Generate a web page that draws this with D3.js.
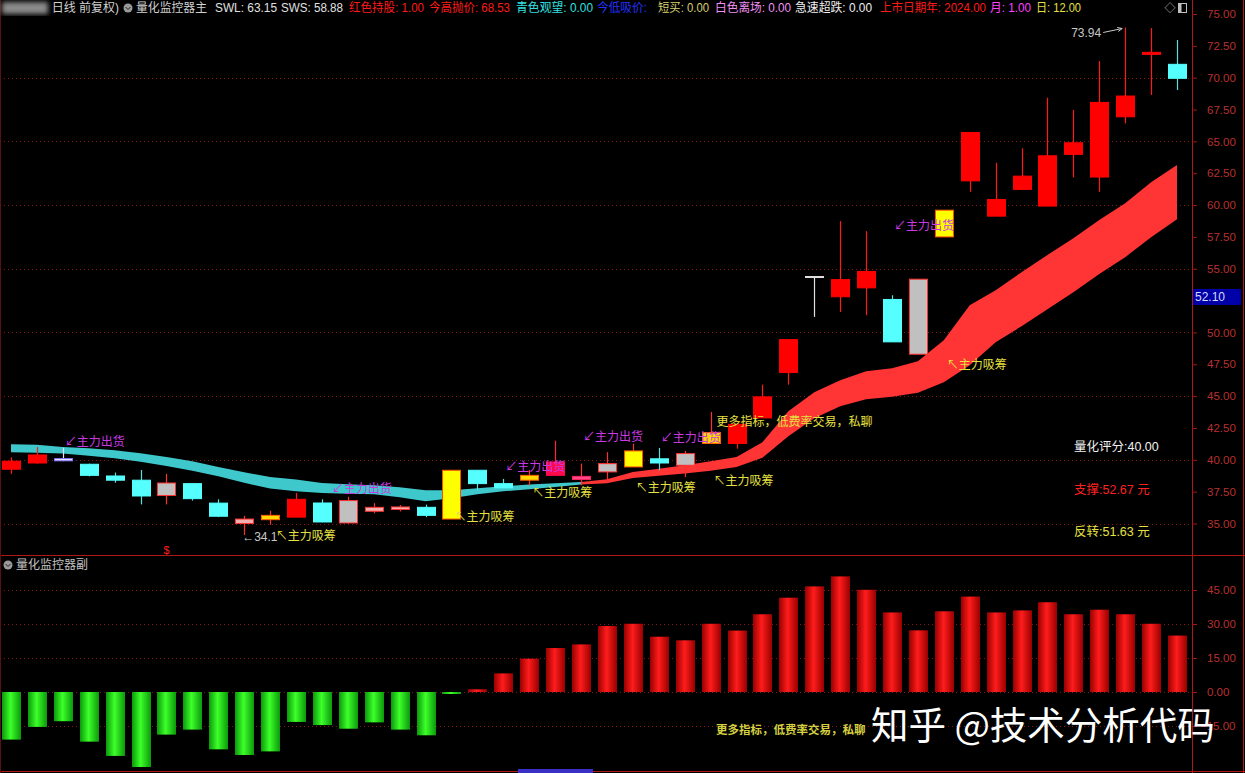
<!DOCTYPE html>
<html>
<head>
<meta charset="utf-8">
<script src="https://cdn.jsdelivr.net/npm/d3@7"></script>
<style>
  html, body { margin: 0; padding: 0; background: #000; overflow: hidden; }
  svg { display: block; }
  text { font-family: "Liberation Sans", "Noto Sans CJK SC", sans-serif; }
</style>
</head>
<body>
<div id="chart"></div>
<script>
const WIDTH = 1245;
const HEIGHT = 773;
const AXIS_X = 1192;
const MAIN_BOTTOM = 555;
const SUB_BOTTOM = 771;
const BODY_W = 18;
const BAR_W = 19;

// candle data, one entry per trading day
const opens  = [39.26, 39.75, 40.10, 39.65, 38.73, 38.40, 38.18, 38.13, 36.60, 35.35,
                35.30, 35.50, 36.61, 36.80, 35.96, 36.10, 36.27, 35.35, 39.18, 38.13,
                38.40, 38.78, 38.45, 39.05, 39.44, 40.08, 39.57, 41.28, 41.28, 43.29,
                46.85, 54.39, 52.80, 53.50, 52.59, 48.29, 57.50, 61.90, 59.13, 61.23,
                59.92, 63.98, 62.20, 66.93, 71.83, 71.05];
const highs  = [40.20, 41.00, 40.95, 39.70, 39.00, 39.20, 38.90, 38.13, 36.90, 35.60,
                36.00, 37.40, 36.90, 37.10, 36.60, 36.45, 36.48, 39.18, 39.18, 38.50,
                39.20, 41.50, 39.70, 40.60, 41.27, 40.93, 40.70, 43.76, 42.79, 45.90,
                49.44, 54.39, 58.74, 57.95, 52.92, 54.18, 59.60, 65.70, 63.32, 64.45,
                68.43, 67.46, 71.31, 73.94, 73.90, 72.96];
const lows   = [38.90, 39.70, 39.90, 38.70, 38.20, 36.50, 36.50, 36.80, 35.50, 34.10,
                34.90, 35.50, 35.10, 35.00, 35.80, 35.95, 35.50, 35.35, 37.60, 37.80,
                38.00, 38.78, 38.00, 38.20, 39.44, 39.18, 38.65, 41.28, 40.88, 43.29,
                45.90, 51.22, 51.60, 51.35, 49.26, 48.29, 57.50, 61.04, 59.13, 61.23,
                59.92, 62.17, 61.04, 66.41, 68.64, 69.03];
const closes = [39.89, 40.38, 39.92, 38.78, 38.40, 37.16, 37.20, 36.95, 35.57, 35.00,
                35.64, 36.90, 35.12, 35.04, 36.27, 36.30, 35.64, 39.18, 38.13, 37.80,
                38.78, 39.83, 38.70, 39.70, 40.70, 39.75, 40.49, 42.14, 42.79, 44.94,
                49.44, 54.39, 54.15, 54.79, 49.26, 54.18, 59.60, 65.70, 60.44, 62.27,
                63.87, 64.89, 68.06, 68.56, 71.99, 69.95];
// signal class of each candle
const signals = ["hold", "hold", "weak", "watch", "watch", "watch", "exit", "watch", "watch", "soft",
                 "buy2", "hold", "watch", "exit", "soft", "soft", "watch", "buy", "watch", "watch",
                 "buy2", "jump", "rose", "exit", "buy", "watch", "exit", "buy2", "hold", "hold",
                 "hold", "flat", "hold", "hold", "watch", "exit", "buy", "hold", "hold", "hold",
                 "hold", "hold", "hold", "hold", "hold", "watch"];

// SWL / SWS ribbon
const swl = [41.22, 41.18, 41.01, 40.91, 40.75, 40.51, 40.22, 39.89, 39.44, 39.02,
             38.65, 38.45, 38.18, 38.08, 38.00, 37.84, 37.61, 37.61, 37.76, 37.92,
             38.06, 38.16, 38.26, 38.47, 39.05, 39.30, 39.57, 39.89, 40.22, 41.38,
             43.81, 45.31, 46.25, 46.96, 47.19, 47.74, 49.39, 52.14, 53.32, 54.73,
             56.07, 57.40, 58.82, 60.15, 61.80, 63.15];
const sws = [40.59, 40.55, 40.49, 40.32, 40.12, 39.85, 39.52, 39.14, 38.71, 38.20,
             37.74, 37.53, 37.40, 37.33, 37.29, 37.06, 36.74, 36.98, 37.29, 37.53,
             37.69, 37.87, 38.06, 38.16, 38.57, 38.75, 38.92, 39.14, 39.44, 40.16,
             41.85, 43.26, 44.21, 44.76, 44.95, 45.27, 46.09, 47.43, 49.23, 50.49,
             51.83, 53.16, 54.58, 55.91, 57.48, 58.88];
const RIBBON_TURN = 22;

// lower panel histogram
const momentum = [-21.0, -15.4, -12.9, -21.9, -28.2, -33.1, -18.8, -16.6, -25.3, -27.8,
                  -26.2, -13.2, -14.6, -16.2, -13.4, -16.6, -19.1, -0.8, 1.2, 8.2,
                  14.7, 19.4, 21.0, 29.1, 30.1, 24.4, 22.8, 30.1, 27.1, 34.3,
                  41.6, 46.6, 51.0, 45.1, 35.1, 27.2, 35.6, 42.1, 35.1, 36.0,
                  39.6, 34.3, 36.3, 34.3, 30.1, 24.9];

// 52.50 sits under the last-price tag, so it is not labelled
const priceTicks = [35, 37.5, 40, 42.5, 45, 47.5, 50, 55, 57.5, 60, 62.5, 65, 67.5, 70, 72.5, 75];
const priceGrid = [35, 40, 45, 50, 55, 60, 65, 70];
const subTicks = [-15, 0, 15, 30, 45];

// text signals: candle index, price level
const sellMarks = [[2, 41.38], [12.3, 37.69], [19, 39.41], [22, 41.77], [25, 41.69], [34, 58.35]];
const buyMarks  = [[10.1, 33.99], [17, 35.49], [20, 37.37], [24, 37.76], [27, 38.31], [36, 47.43]];
const SELL_TEXT = "↙主力出货";
const BUY_TEXT = "↖主力吸筹";
const promoText = "更多指标，低费率交易，私聊";
const lowLabel = "34.1";
const highLabel = "73.94";
const lastPrice = "52.10";

const headerLabels = ["量化监控器主", "SWL:", "SWS:", "红色持股:", "今高抛价:", "青色观望:", "今低吸价:",
                      "短买:", "白色离场:", "急速超跌:", "上市日期年:", "月:", "日:"];
const headerValues = ["", "63.15", "58.88", "1.00", "68.53", "0.00", "",
                      "0.00", "0.00", "0.00", "2024.00", "1.00", "12.00"];
const infoLabels = ["量化评分:40.00", "支撑:52.67 元", "反转:51.63 元"];

const candleStyle = {
    hold:  {fill: "#ff0000", stroke: "#ff0000", wick: "#ff1a1a"},
    watch: {fill: "#55ffff", stroke: "#55ffff", wick: "#55e0e0"},
    exit:  {fill: "#c0c0c0", stroke: "#ff3030", wick: "#ff3030"},
    buy:   {fill: "#ffff00", stroke: "#ff5000", wick: "#ff3030"},
    buy2:  {fill: "#ffd800", stroke: "#ff6000", wick: "#ff3030"},
    soft:  {fill: "#f0b0b0", stroke: "#ff3030", wick: "#ff3030"},
    rose:  {fill: "#ff4a8a", stroke: "#ff2060", wick: "#ff3030"},
    jump:  {fill: "#ff0a4a", stroke: "#ff0a4a", wick: "#ff2040"},
    weak:  {fill: "#e8e8ff", stroke: "#8070ff", wick: "#e0e0ff"},
    flat:  {fill: "#e0e0e0", stroke: "#e0e0e0", wick: "#e0e0e0"}
};

let svg = d3.select("#chart")
            .append("svg")
            .attr("width", WIDTH)
            .attr("height", HEIGHT)
            .style("background", "#000");

let x = d3.scaleLinear().domain([0, closes.length - 1]).range([11, 1177]);
let y = d3.scaleLinear().domain([35, 75]).range([523.5, 14]);
let ySub = d3.scaleLinear().domain([-15, 45]).range([726, 590]);

let defs = svg.append("defs");
function barGradient(id, edge, mid) {
    let g = defs.append("linearGradient").attr("id", id)
        .attr("x1", "0").attr("x2", "1").attr("y1", "0").attr("y2", "0");
    g.append("stop").attr("offset", "0%").attr("stop-color", edge);
    g.append("stop").attr("offset", "45%").attr("stop-color", mid);
    g.append("stop").attr("offset", "100%").attr("stop-color", edge);
}
barGradient("redBar", "#9a0000", "#ff1c1c");
barGradient("greenBar", "#0a9a0a", "#3dff2a");
defs.append("filter").attr("id", "blur")
    .append("feGaussianBlur").attr("stdDeviation", 2.5);

drawFrame();
drawMain();
drawSub();
drawHeader();

function drawFrame() {
    // dotted grid
    svg.selectAll(".pgrid").data(priceGrid).enter().append("line")
        .attr("x1", 0).attr("x2", AXIS_X)
        .attr("y1", d => Math.round(y(d)) + 0.5).attr("y2", d => Math.round(y(d)) + 0.5)
        .attr("stroke", "#8a1414").attr("stroke-dasharray", "1,3");
    svg.selectAll(".sgrid").data(subTicks).enter().append("line")
        .attr("x1", 0).attr("x2", AXIS_X)
        .attr("y1", d => Math.round(ySub(d)) + 0.5).attr("y2", d => Math.round(ySub(d)) + 0.5)
        .attr("stroke", "#8a1414").attr("stroke-dasharray", "1,3");

    let frame = "#b01818";
    svg.append("line").attr("x1", 0).attr("x2", WIDTH).attr("y1", MAIN_BOTTOM + 0.5).attr("y2", MAIN_BOTTOM + 0.5).attr("stroke", frame);
    svg.append("line").attr("x1", 0).attr("x2", WIDTH).attr("y1", SUB_BOTTOM + 0.5).attr("y2", SUB_BOTTOM + 0.5).attr("stroke", frame);
    svg.append("line").attr("x1", AXIS_X + 0.5).attr("x2", AXIS_X + 0.5).attr("y1", 0).attr("y2", HEIGHT).attr("stroke", frame);
    svg.append("line").attr("x1", WIDTH - 1.5).attr("x2", WIDTH - 1.5).attr("y1", 0).attr("y2", HEIGHT).attr("stroke", frame);
    svg.append("line").attr("x1", 0.5).attr("x2", 0.5).attr("y1", 0).attr("y2", HEIGHT).attr("stroke", "#5a1010");
    svg.append("rect").attr("x", 518).attr("y", 769).attr("width", 75).attr("height", 4).attr("fill", "#3a30c8");

    // right axes
    let axisMain = d3.axisRight(y).tickValues(priceTicks).tickSize(5).tickFormat(d3.format(".2f"));
    let gMain = svg.append("g").attr("transform", `translate(${AXIS_X},0)`).call(axisMain);
    let axisSub = d3.axisRight(ySub).tickValues(subTicks).tickSize(5).tickFormat(d3.format(".2f"));
    let gSub = svg.append("g").attr("transform", `translate(${AXIS_X},0)`).call(axisSub);
    [gMain, gSub].forEach(g => {
        g.select(".domain").remove();
        g.selectAll(".tick line").attr("stroke", "#a01818");
        g.selectAll(".tick text").attr("x", 15).attr("fill", "#b83030")
            .style("font-size", "11.5px").style("font-family", "Liberation Sans, sans-serif");
    });
    gSub.selectAll(".tick text").filter(d => d < 0).attr("x", 8);

    // current price tag
    svg.append("rect").attr("x", AXIS_X + 1).attr("y", 289).attr("width", 48).attr("height", 16).attr("fill", "#0000a8");
    svg.append("text").attr("x", AXIS_X + 3).attr("y", 297).attr("dominant-baseline", "central")
        .attr("fill", "#d8d8ff").style("font-size", "12px").text(lastPrice);
}

function drawMain() {
    let ribbon = d3.area().x(d => x(d.i)).y0(d => y(d.lo)).y1(d => y(d.hi));
    let pts = swl.map((v, i) => ({i: i, hi: v, lo: sws[i]}));
    svg.append("path").datum(pts.slice(0, RIBBON_TURN + 1)).attr("d", ribbon).attr("fill", "#3ec8cc");
    svg.append("path").datum(pts.slice(RIBBON_TURN)).attr("d", ribbon).attr("fill", "#ff3434");

    let candles = closes.map((c, i) => ({i: i, o: opens[i], h: highs[i], l: lows[i], c: c, s: candleStyle[signals[i]]}));
    let g = svg.append("g");
    g.selectAll(".wick").data(candles).enter().append("line")
        .attr("x1", d => Math.round(x(d.i)) + 0.5).attr("x2", d => Math.round(x(d.i)) + 0.5)
        .attr("y1", d => y(d.h)).attr("y2", d => y(d.l))
        .attr("stroke", d => d.s.wick).attr("stroke-width", 1.2);
    g.selectAll(".body").data(candles).enter().append("rect")
        .attr("x", d => Math.round(x(d.i)) - BODY_W / 2 + 0.5)
        .attr("y", d => y(Math.max(d.o, d.c)))
        .attr("width", BODY_W)
        .attr("height", d => Math.max(1, y(Math.min(d.o, d.c)) - y(Math.max(d.o, d.c))))
        .attr("fill", d => d.s.fill).attr("stroke", d => d.s.stroke).attr("stroke-width", 1);

    // signal labels
    let fs = "12px";
    svg.selectAll(".sell").data(sellMarks).enter().append("text")
        .attr("x", d => x(d[0]) + 2).attr("y", d => y(d[1])).attr("dominant-baseline", "central")
        .attr("fill", "#c83ae0").style("font-size", fs).text(SELL_TEXT);
    svg.selectAll(".buy").data(buyMarks).enter().append("text")
        .attr("x", d => x(d[0]) + 3).attr("y", d => y(d[1])).attr("dominant-baseline", "central")
        .attr("fill", "#e6e040").style("font-size", fs).text(BUY_TEXT);
    svg.append("text").attr("x", x(27) + 6).attr("y", y(42.95)).attr("dominant-baseline", "central")
        .attr("fill", "#e6e040").style("font-size", fs).text(promoText);

    // extreme labels
    let lowI = lows.indexOf(d3.min(lows));
    svg.append("text").attr("x", x(lowI) - 2).attr("y", y(d3.min(lows)) + 2).attr("dominant-baseline", "central")
        .attr("fill", "#c8c8c8").style("font-size", "12px").text("←" + lowLabel);
    let highI = highs.indexOf(d3.max(highs));
    let hx = x(highI), hy = y(d3.max(highs));
    svg.append("text").attr("x", hx - 24).attr("y", hy + 5).attr("text-anchor", "end")
        .attr("dominant-baseline", "central").attr("fill", "#c8c8c8").style("font-size", "12px").text(highLabel);
    svg.append("path").attr("d", `M${hx - 22},${hy + 5} L${hx - 3},${hy + 1}`)
        .attr("stroke", "#c8c8c8").attr("fill", "none");
    svg.append("path").attr("d", `M${hx - 8},${hy} L${hx - 3},${hy + 1} L${hx - 7},${hy + 4}`)
        .attr("stroke", "#c8c8c8").attr("fill", "none");

    svg.append("text").attr("x", x(6)).attr("y", 550).attr("text-anchor", "middle").attr("dominant-baseline", "central")
        .attr("fill", "#ff2020").style("font-size", "11px").text("$");

    // info block
    let infoColors = ["#f0f0f0", "#ff2020", "#e6e040"];
    svg.selectAll(".info").data(infoLabels).enter().append("text")
        .attr("x", 1074).attr("y", (d, i) => 447 + i * 42.5).attr("dominant-baseline", "central")
        .attr("fill", (d, i) => infoColors[i]).style("font-size", "12.5px").text(d => d);
}

function drawSub() {
    svg.selectAll(".mbar").data(momentum).enter().append("rect")
        .attr("x", (d, i) => Math.round(x(i)) - BAR_W / 2 + 0.5)
        .attr("y", d => ySub(Math.max(0, d)))
        .attr("width", BAR_W)
        .attr("height", d => Math.max(2, Math.abs(ySub(d) - ySub(0))))
        .attr("fill", d => d >= 0 ? "url(#redBar)" : "url(#greenBar)");

    svg.append("circle").attr("cx", 8).attr("cy", 565).attr("r", 4.5).attr("fill", "#9a9a9a");
    svg.append("path").attr("d", "M5.5,564 L8,566.5 L10.5,564").attr("stroke", "#222").attr("fill", "none");
    svg.append("text").attr("x", 16).attr("y", 565).attr("dominant-baseline", "central")
        .attr("fill", "#c0c0c0").style("font-size", "12px").text("量化监控器副");

    svg.append("text").attr("x", 716).attr("y", 730).attr("dominant-baseline", "central")
        .attr("fill", "#d4d040").style("font-size", "11.5px").style("font-weight", "bold").text(promoText);

    svg.append("text").attr("x", 871).attr("y", 722).attr("dominant-baseline", "central")
        .attr("fill", "#ffffff").style("font-size", "37.5px")
        .style("font-family", "Noto Sans CJK SC, sans-serif").text("知乎 @技术分析代码");
}

function drawHeader() {
    let colors = ["#d0d0d0", "#e0e0e0", "#e0e0e0", "#ff1a1a", "#ff1a1a", "#30e0e0", "#2030ff",
                  "#d8d070", "#f090f0", "#f0f0f0", "#ff1a1a", "#ff40ff", "#e8e040"];
    let xs = [136, 215, 281, 349, 429, 516, 597, 658, 715, 795, 880, 990, 1036];
    let ws = [71, 62, 62, 75, 81, 77, 50, 51, 76, 77, 106, 41, 45];
    let hy = 8;
    svg.append("rect").attr("x", 2).attr("y", 2).attr("width", 46).attr("height", 12)
        .attr("fill", "#8a8a8a").attr("filter", "url(#blur)");
    svg.append("text").attr("x", 119).attr("y", hy).attr("text-anchor", "end").attr("dominant-baseline", "central")
        .attr("fill", "#d0d0d0").style("font-size", "12px").text("日线 前复权)");
    svg.append("circle").attr("cx", 128).attr("cy", hy).attr("r", 4.5).attr("fill", "#9a9a9a");
    svg.append("path").attr("d", `M125.5,${hy - 1} L128,${hy + 1.5} L130.5,${hy - 1}`).attr("stroke", "#222").attr("fill", "none");
    svg.selectAll(".hdr").data(headerLabels).enter().append("text")
        .attr("x", (d, i) => xs[i]).attr("y", hy).attr("dominant-baseline", "central")
        .attr("textLength", (d, i) => ws[i]).attr("lengthAdjust", "spacingAndGlyphs")
        .attr("fill", (d, i) => colors[i]).style("font-size", "12px")
        .text((d, i) => headerValues[i] ? d + " " + headerValues[i] : d);
    svg.append("text").attr("x", 1170).attr("y", hy).attr("text-anchor", "middle").attr("dominant-baseline", "central")
        .attr("fill", "#c0c0c0").style("font-size", "11px").text("◇");
    svg.append("rect").attr("x", 1178.5).attr("y", 3.5).attr("width", 8).attr("height", 9)
        .attr("fill", "none").attr("stroke", "#c0c0c0");
    svg.append("rect").attr("x", 1178.5).attr("y", 3.5).attr("width", 3).attr("height", 9).attr("fill", "#c0c0c0");
}
</script>
</body>
</html>
